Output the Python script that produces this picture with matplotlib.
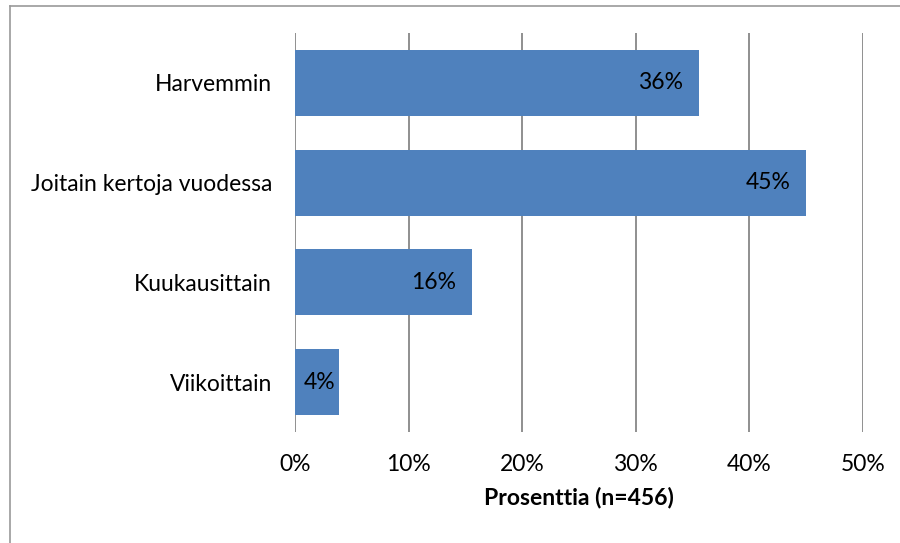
import matplotlib
matplotlib.use("Agg")
import matplotlib.pyplot as plt
from matplotlib.lines import Line2D

categories = ["Harvemmin", "Joitain kertoja vuodessa", "Kuukausittain", "Viikoittain"]
values = [35.6, 45.0, 15.6, 3.9]
xticks = [0, 10, 20, 30, 40, 50]
xlabel = "Prosenttia (n=456)"

plt.rcParams["font.family"] = ["Lato", "DejaVu Sans"]

W, H, DPI = 900, 543, 100
FS = 16.5
fig = plt.figure(figsize=(W / DPI, H / DPI), dpi=DPI)
ax = fig.add_axes([295 / W, 1 - 432 / H, (863 - 295) / W, (432 - 33) / H])

grid_col = "#878787"
bar_col = "#4F81BD"

ypos = list(range(len(categories)))
ax.barh(ypos, values, height=0.66, color=bar_col, zorder=2)
ax.set_ylim(len(categories) - 0.5, -0.5)
ax.set_xlim(0, 50)

ax.set_xticks(xticks)
ax.set_xticklabels([f"{t}%" for t in xticks], fontsize=FS)
ax.set_yticks(ypos)
ax.set_yticklabels(categories, fontsize=FS)
ax.tick_params(axis="both", length=0, colors="black")
ax.tick_params(axis="x", pad=16)
ax.tick_params(axis="y", pad=16.5)
ax.grid(axis="x", color=grid_col, linewidth=1.3, zorder=1)
for s in ax.spines.values():
    s.set_visible(False)

ax.set_xlabel(xlabel, fontsize=FS, fontweight="bold", labelpad=8)

for y, v in zip(ypos, values):
    txt = f"{v:.0f}%"
    if v < 8:
        ax.text(v / 2 + 0.2, y, txt, ha="center", va="center", fontsize=FS, zorder=3)
    else:
        ax.annotate(txt, (v, y), xytext=(-11.5, 0), textcoords="offset points",
                    ha="right", va="center", fontsize=FS, zorder=3)

# outer frame lines (top and left)
fig.add_artist(Line2D([10 / W, 1], [1 - 6 / H, 1 - 6 / H], color="#9a9a9a", linewidth=1.2,
                      transform=fig.transFigure))
fig.add_artist(Line2D([10 / W, 10 / W], [0, 1 - 6 / H], color="#9a9a9a", linewidth=1.2,
                      transform=fig.transFigure))

fig.savefig("out.png", dpi=DPI, facecolor="white")
